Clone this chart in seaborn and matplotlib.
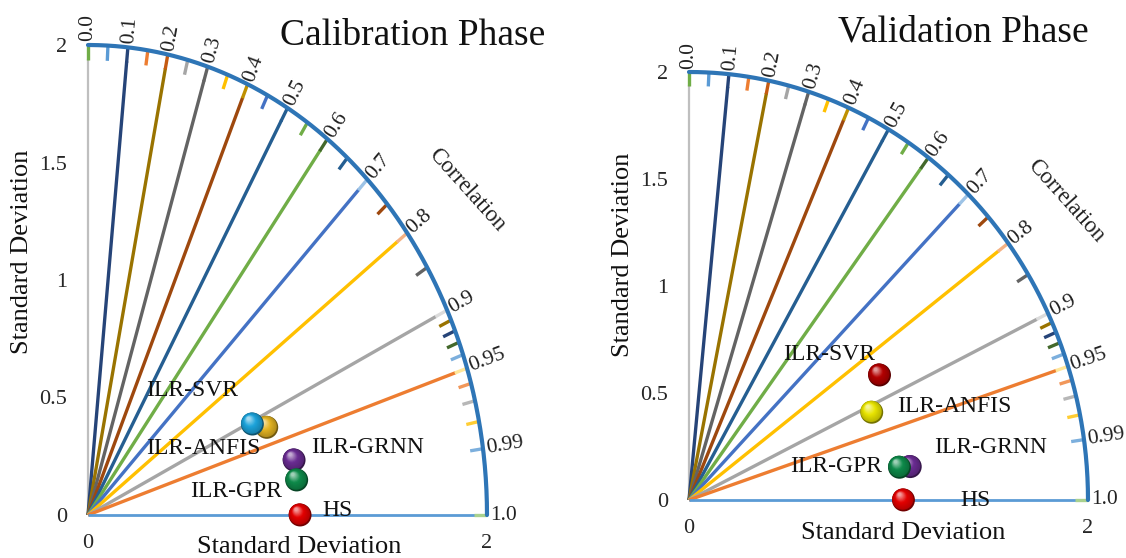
import numpy as np
import pandas as pd
import matplotlib
matplotlib.use("Agg")
import matplotlib.pyplot as plt
import seaborn as sns
from matplotlib.transforms import offset_copy
from matplotlib.colors import to_rgb

sns.set_theme(style="white")
plt.rcParams['font.family'] = ['Liberation Serif', 'DejaVu Serif']

# ---------------- data ----------------
models = ["ILR-SVR", "ILR-ANFIS", "ILR-GRNN", "ILR-GPR", "HS"]
cal_x = [0.824, 0.896, 1.033, 1.046, 1.063]
cal_y = [0.387, 0.373, 0.234, 0.149, 0.0]
val_x = [0.955, 0.916, 1.109, 1.055, 1.075]
val_y = [0.584, 0.410, 0.156, 0.153, 0.0]
cal_colors = ["#1ca3da", "#e2b322", "#6a2c92", "#0e8a4a", "#e30000"]
val_colors = ["#b30000", "#e9e500", "#6a2c92", "#0e8a4a", "#e30000"]

major_corr = [0.0, 0.1, 0.2, 0.3, 0.4, 0.5, 0.6, 0.7, 0.8, 0.9, 0.95, 1.0]
major_colors = ["#BFBFBF", "#264478", "#997300", "#636363", "#9E480E", "#255E91",
                "#70AD47", "#4472C4", "#FFC000", "#A5A5A5", "#ED7D31", "#5B9BD5"]

tick_corr = [0.0, 0.05, 0.10, 0.15, 0.20, 0.25, 0.30, 0.35, 0.40, 0.45, 0.50, 0.55,
             0.60, 0.65, 0.70, 0.75, 0.80, 0.85, 0.90, 0.91, 0.92, 0.93, 0.94, 0.95,
             0.96, 0.97, 0.98, 0.99, 1.0]
tick_colors = ["#70AD47", "#5B9BD5", "#264478", "#ED7D31", "#C55A11", "#A5A5A5", "#636363",
               "#FFC000", "#BF9000", "#4472C4", "#255E91", "#70AD47", "#43682B", "#255E91",
               "#9DC3E6", "#9E480E", "#F4B183", "#636363", "#DBDBDB", "#997300", "#264478",
               "#43682B", "#7CAFDD", "#FFE699", "#F1975A", "#B7B7B7", "#FFCD33", "#7CAFDD",
               "#A9D18E"]

arc_corr = [0.0, 0.1, 0.2, 0.3, 0.4, 0.5, 0.6, 0.7, 0.8, 0.9, 0.95, 0.99, 1.0]
arc_labels = ["0.0", "0.1", "0.2", "0.3", "0.4", "0.5", "0.6", "0.7", "0.8", "0.9",
              "0.95", "0.99", "1.0"]

ytick_vals = [0, 0.5, 1, 1.5, 2]
ytick_labels = ["0", "0.5", "1", "1.5", "2"]
xtick_vals = [0, 2]
xtick_labels = ["0", "2"]

# layout (label positions in data units)
cal_label_pos = [(0.52, 0.528), (0.58, 0.282), (1.40, 0.286), (0.74, 0.099), (1.25, 0.021)]
val_label_pos = [(0.70, 0.678), (1.33, 0.435), (1.51, 0.245), (0.737, 0.156), (1.434, 0.0)]
cal_order = [1, 2, 3, 4, 0]
val_order = [0, 1, 2, 3, 4]

W, H = 1126, 558
fig = plt.figure(figsize=(W / 100, H / 100), dpi=100)


def fx(px):
    return px / W


def fy(py):
    return 1 - py / H


def sphere_layers(ax, x, y, color, diam, z):
    base = np.array(to_rgb(color))
    light = base + (1 - base) * 0.6
    n = 14
    for k in range(n):
        f = k / (n - 1)
        d = diam * (0.93 - 0.78 * f)
        if f < 0.5:
            c = base * 0.8 * (1 - 2 * f) + base * (2 * f)
        else:
            g = (f - 0.5) * 2
            c = base * (1 - g) + light * g
        c = np.clip(c, 0, 1)
        off = diam * (0.04 + 0.2 * f)
        tr = offset_copy(ax.transData, fig=fig, x=-off * 0.7, y=off, units='points')
        ax.scatter([x], [y], s=d ** 2, color=[c], edgecolors='none', transform=tr,
                   zorder=z, clip_on=False)


def panel(ax, xs, ys, colors, order, label_pos):
    ax.set_xlim(0, 2)
    ax.set_ylim(0, 2)
    for s in ax.spines.values():
        s.set_visible(False)
    ax.grid(False)
    ax.set_xticks(xtick_vals)
    ax.set_xticklabels(xtick_labels)
    ax.set_yticks(ytick_vals)
    ax.set_yticklabels(ytick_labels)
    ax.tick_params(axis='both', length=0, labelsize=16)
    ax.tick_params(axis='y', pad=15)
    ax.tick_params(axis='x', pad=14)

    # radial correlation lines
    for c, col in zip(major_corr, major_colors):
        th = np.arccos(c)
        lw = 1.6 if c == 0.0 else (2.0 if c == 1.0 else 2.4)
        ax.plot([0, 1.94 * np.cos(th)], [0, 1.94 * np.sin(th)], color=col, lw=lw,
                solid_capstyle='butt', zorder=2, clip_on=False)
    # small ticks near the arc
    for c, col in zip(tick_corr, tick_colors):
        th = np.arccos(c)
        ax.plot([1.935 * np.cos(th), 2.0 * np.cos(th)], [1.935 * np.sin(th), 2.0 * np.sin(th)],
                color=col, lw=2.4, solid_capstyle='butt', zorder=2, clip_on=False)
    # arc
    t = np.linspace(0, np.pi / 2, 300)
    ax.plot(2 * np.cos(t), 2 * np.sin(t), color="#2E75B6", lw=3.0, zorder=3, clip_on=False)
    # arc labels
    for c, lab in zip(arc_corr, arc_labels):
        th = np.arccos(c)
        ax.text(2.015 * np.cos(th), 2.015 * np.sin(th), lab, rotation=np.degrees(th),
                transform_rotates_text=True, rotation_mode='anchor', ha='left', va='center',
                fontsize=15.5, color='#222222', zorder=4, clip_on=False)

    # points
    df = pd.DataFrame({"x": [xs[i] for i in order], "y": [ys[i] for i in order],
                       "model": [models[i] for i in order]})
    for rank, i in enumerate(order):
        sub = df[df.model == models[i]]
        dark = tuple(np.array(to_rgb(colors[i])) * 0.5)
        sns.scatterplot(data=sub, x="x", y="y", hue="model", palette={models[i]: dark},
                        s=16.5 ** 2, ax=ax, legend=False, edgecolor='none',
                        zorder=5 + rank * 2, clip_on=False)
        sphere_layers(ax, xs[i], ys[i], colors[i], 16.5, 6 + rank * 2)
    for i, (lx, ly) in enumerate(label_pos):
        ax.text(lx, ly, models[i], ha='center', va='center', fontsize=17, color='#111111',
                zorder=20)
    ax.set_xlabel("")
    ax.set_ylabel("")


ax1 = fig.add_axes([fx(88), fy(515), fx(399), (515 - 45) / H])
panel(ax1, cal_x, cal_y, cal_colors, cal_order, cal_label_pos)
ax2 = fig.add_axes([fx(689), fy(500), fx(399), (500 - 72) / H])
panel(ax2, val_x, val_y, val_colors, val_order, val_label_pos)

# titles and axis labels
fig.text(fx(413), fy(36), "Calibration Phase", ha='center', va='center', fontsize=27, color='#111111')
fig.text(fx(963), fy(32), "Validation Phase", ha='center', va='center', fontsize=27, color='#111111')
fig.text(fx(467), fy(190), "Correlation", rotation=-48, ha='center', va='center', fontsize=16.5,
         color='#222222')
fig.text(fx(1066), fy(201), "Correlation", rotation=-48, ha='center', va='center', fontsize=16.5,
         color='#222222')
fig.text(fx(299), fy(547), "Standard Deviation", ha='center', va='center', fontsize=19, color='#111111')
fig.text(fx(903), fy(533), "Standard Deviation", ha='center', va='center', fontsize=19, color='#111111')
fig.text(fx(22), fy(252), "Standard Deviation", rotation=90, ha='center', va='center', fontsize=19,
         color='#111111')
fig.text(fx(623), fy(255), "Standard Deviation", rotation=90, ha='center', va='center', fontsize=19,
         color='#111111')

fig.savefig("out.png", dpi=100, facecolor='white')
